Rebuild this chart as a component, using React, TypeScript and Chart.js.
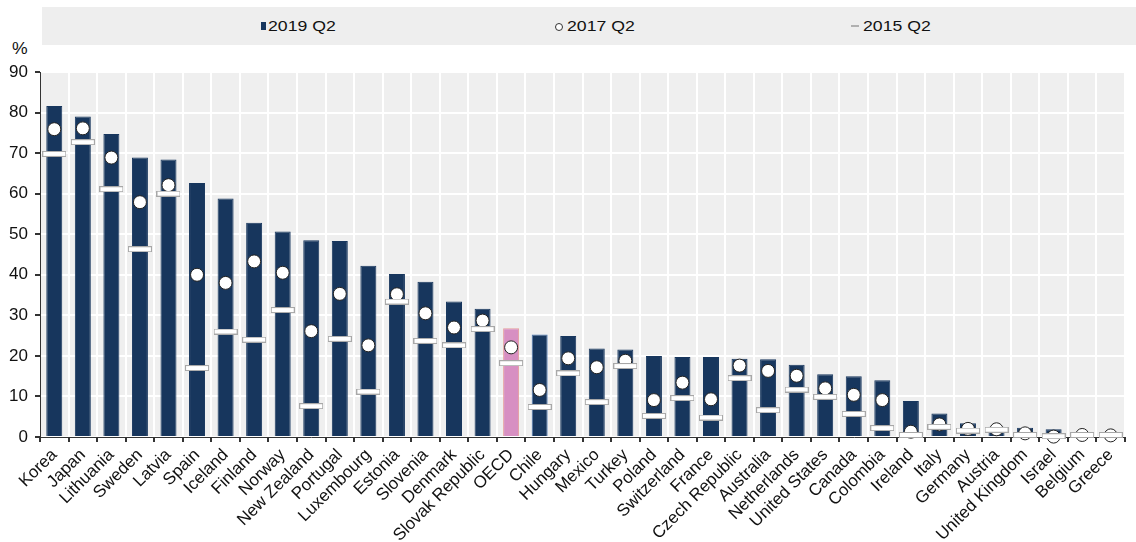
import React, { useEffect, useRef } from 'react';
import { Chart, registerables } from 'chart.js';

Chart.register(...registerables);

const categories = ['Korea', 'Japan', 'Lithuania', 'Sweden', 'Latvia', 'Spain', 'Iceland', 'Finland', 'Norway', 'New Zealand', 'Portugal', 'Luxembourg', 'Estonia', 'Slovenia', 'Denmark', 'Slovak Republic', 'OECD', 'Chile', 'Hungary', 'Mexico', 'Turkey', 'Poland', 'Switzerland', 'France', 'Czech Republic', 'Australia', 'Netherlands', 'United States', 'Canada', 'Colombia', 'Ireland', 'Italy', 'Germany', 'Austria', 'United Kingdom', 'Israel', 'Belgium', 'Greece'];

const values2019 = [81.6, 79.0, 74.7, 68.9, 68.4, 62.6, 58.8, 52.8, 50.7, 48.5, 48.3, 42.2, 40.2, 38.3, 33.4, 31.6, 26.8, 25.3, 24.9, 21.8, 21.6, 20.0, 19.7, 19.7, 19.3, 19.2, 17.8, 15.5, 15.0, 14.0, 8.9, 5.8, 3.4, 2.5, 2.3, 1.9, 0.3, 0.3];

const values2017 = [75.9, 76.1, 68.9, 57.9, 62.1, 40.0, 38.0, 43.3, 40.5, 26.1, 35.3, 22.6, 35.2, 30.5, 27.0, 28.7, 22.1, 11.6, 19.4, 17.2, 18.8, 9.1, 13.4, 9.3, 17.6, 16.3, 15.1, 12.0, 10.4, 9.1, 1.3, 3.1, 2.0, 1.9, 0.9, 0.1, 0.5, 0.4];

const values2015 = [69.8, 72.7, 61.1, 46.3, 60.0, 17.0, 26.0, 24.0, 31.3, 7.6, 24.2, 11.2, 33.4, 23.7, 22.6, 26.6, 18.2, 7.4, 15.7, 8.6, 17.5, 5.2, 9.6, 4.8, 14.5, 6.6, 11.7, 9.9, 5.7, 2.2, 0.5, 2.5, 1.6, 1.8, 0.5, 0.2, 0.5, 0.5];

const seriesLabels = ['2019 Q2', '2017 Q2', '2015 Q2'];

const NAVY = '#17365d';
const FONT = "'Liberation Sans', Arial, sans-serif";

function makeDash(): HTMLCanvasElement {
  const c = document.createElement('canvas');
  c.width = 24;
  c.height = 6;
  const ctx = c.getContext('2d')!;
  ctx.fillStyle = '#a8a8a8';
  ctx.fillRect(0, 0, 24, 6);
  ctx.fillStyle = '#ffffff';
  ctx.fillRect(1, 1, 22, 4);
  return c;
}

const bgPlugin = {
  id: 'plotBg',
  beforeDraw(chart: any) {
    const { ctx, chartArea } = chart;
    ctx.save();
    ctx.fillStyle = '#efefef';
    ctx.fillRect(chartArea.left, chartArea.top, chartArea.right - chartArea.left, chartArea.bottom - chartArea.top);
    ctx.restore();
  },
};

export default function App() {
  const ref = useRef<HTMLCanvasElement | null>(null);

  useEffect(() => {
    if (!ref.current) return;
    const dash = makeDash();
    const chart = new Chart(ref.current, {
      type: 'bar',
      data: {
        labels: categories,
        datasets: [
          {
            type: 'line' as any,
            label: seriesLabels[2],
            data: values2015,
            showLine: false,
            pointStyle: dash as any,
            pointRadius: 10,
            order: 1,
            clip: false as any,
          },
          {
            type: 'line' as any,
            label: seriesLabels[1],
            data: values2017,
            showLine: false,
            pointStyle: 'circle',
            pointRadius: 6.5,
            pointBackgroundColor: '#ffffff',
            pointBorderColor: '#222222',
            pointBorderWidth: 1,
            order: 2,
            clip: false as any,
          },
          {
            type: 'bar',
            label: seriesLabels[0],
            data: values2019,
            backgroundColor: categories.map((c) => (c === 'OECD' ? '#d78fc2' : NAVY)),
            borderColor: categories.map((c) => (c === 'OECD' ? '#e69c9c' : c === 'Chile' ? '#4a78b5' : NAVY)),
            borderWidth: 1,
            barPercentage: 0.56,
            categoryPercentage: 1,
            order: 3,
          },
        ],
      },
      options: {
        animation: false,
        responsive: false,
        layout: { padding: { top: 72, right: 3, left: 0, bottom: 0 } },
        plugins: {
          legend: { display: false },
          tooltip: { enabled: false },
        },
        scales: {
          x: {
            offset: true,
            grid: {
              offset: true,
              color: '#ffffff',
              lineWidth: 2,
              tickColor: '#333333',
              tickLength: 5,
              drawTicks: true,
            },
            border: { display: true, color: '#333333', width: 1 },
            ticks: {
              autoSkip: false,
              minRotation: 45,
              maxRotation: 45,
              padding: 3,
              color: '#111111',
              font: { family: FONT, size: 17 },
            },
            afterFit(scale: any) {
              scale.height = 105;
              scale.paddingLeft = 0;
              scale.paddingRight = 0;
            },
          },
          y: {
            min: 0,
            max: 90,
            ticks: {
              stepSize: 10,
              padding: 7,
              color: '#111111',
              font: { family: FONT, size: 17 },
            },
            grid: {
              color: '#ffffff',
              lineWidth: 2,
              tickColor: '#333333',
              tickLength: 5,
            },
            border: { display: true, color: '#333333', width: 1 },
            afterFit(scale: any) {
              scale.width = 40;
            },
          },
        },
      },
      plugins: [bgPlugin],
    });
    return () => chart.destroy();
  }, []);

  const legendText: React.CSSProperties = {
    position: 'absolute',
    top: 17,
    fontFamily: FONT,
    fontSize: 15.5,
    color: '#111',
    lineHeight: '18px',
    whiteSpace: 'nowrap',
    transform: 'scaleX(1.14)',
    transformOrigin: 'left center',
  };

  return (
    <div style={{ position: 'fixed', left: 0, top: 0, width: 1136, height: 542, background: '#fff', overflow: 'hidden' }}>
      <div style={{ position: 'absolute', left: 42, top: 7, width: 1094, height: 38, background: '#eeeeee' }} />
      <div style={{ position: 'absolute', left: 261, top: 22, width: 5, height: 8, background: NAVY }} />
      <div style={{ ...legendText, left: 268 }}>{seriesLabels[0]}</div>
      <div style={{ position: 'absolute', left: 555, top: 23, width: 6, height: 6, borderRadius: '50%', border: '1px solid #333', background: '#fff' }} />
      <div style={{ ...legendText, left: 567 }}>{seriesLabels[1]}</div>
      <div style={{ position: 'absolute', left: 851, top: 25, width: 8, height: 2, background: '#b0b0b0' }} />
      <div style={{ ...legendText, left: 863 }}>{seriesLabels[2]}</div>
      <div style={{ position: 'absolute', left: 12, top: 40, fontFamily: FONT, fontSize: 16, color: '#111', transform: 'scaleX(1.1)', transformOrigin: 'left center' }}>%</div>
      <canvas ref={ref} width={1136} height={542} style={{ position: 'absolute', left: 0, top: 0, width: 1136, height: 542 }} />
    </div>
  );
}
